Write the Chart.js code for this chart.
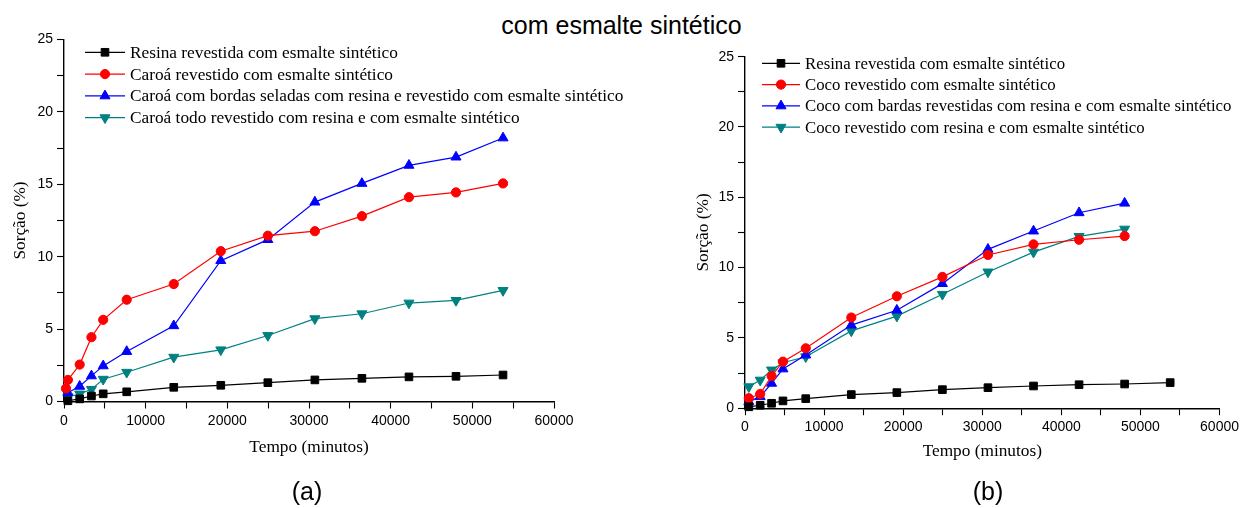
<!DOCTYPE html>
<html>
<head>
<meta charset="utf-8">
<script src="https://cdn.jsdelivr.net/npm/chart.js@4.4.1/dist/chart.umd.min.js"></script>
<style>
  html, body { margin: 0; padding: 0; background: #fff; }
  #page { position: relative; width: 1243px; height: 508px; overflow: hidden; }
  .box { position: absolute; top: 0; height: 508px; }
  #boxA { left: 0; width: 640px; }
  #boxB { left: 620px; width: 623px; }
  .lbl { position: absolute; font-family: 'Liberation Sans', Arial, sans-serif; font-size: 25px;
         line-height: 25px; color: #000; white-space: nowrap; transform: translateX(-50%); }
</style>
</head>
<body>
<div id="page">
  <div class="lbl" style="left:621.5px; top:13px;">com esmalte sintético</div>
  <div class="box" id="boxA"><canvas id="chartA" width="640" height="508"></canvas></div>
  <div class="box" id="boxB"><canvas id="chartB" width="623" height="508"></canvas></div>
  <div class="lbl" style="left:307px; top:479px;">(a)</div>
  <div class="lbl" style="left:988px; top:479px;">(b)</div>
</div>
<script>
// Sampling times (minutes)
const tempos = [480, 1920, 3360, 4800, 7680, 13440, 19200, 24960, 30720, 36480, 42240, 48000, 53760];
const temposCaroaRevestido = [240, 480, 1920, 3360, 4800, 7680, 13440, 19200, 24960, 30720, 36480, 42240, 48000, 53760];
const temposCoco = [480, 1920, 3360, 4800, 7680, 13440, 19200, 24960, 30720, 36480, 42240, 48000];

// Panel (a): sorption (%)
const resinaA = [0.05, 0.18, 0.38, 0.53, 0.67, 0.98, 1.12, 1.30, 1.49, 1.60, 1.70, 1.74, 1.83];
const caroaRevestido = [0.9, 1.49, 2.55, 4.44, 5.64, 7.03, 8.11, 10.38, 11.45, 11.76, 12.8, 14.11, 14.44, 15.06];
const caroaBordas = [0.6, 1.05, 1.77, 2.46, 3.45, 5.23, 9.73, 11.18, 13.77, 15.06, 16.31, 16.88, 18.2];
const caroaTodo = [0.33, 0.52, 0.84, 1.54, 2.02, 3.06, 3.57, 4.56, 5.72, 6.06, 6.8, 6.98, 7.67];

// Panel (b): sorption (%)
const resinaB = [0.1, 0.21, 0.35, 0.52, 0.68, 0.97, 1.11, 1.32, 1.46, 1.58, 1.67, 1.72, 1.82];
const cocoRevestido = [0.71, 1.01, 2.29, 3.31, 4.26, 6.45, 7.96, 9.34, 10.9, 11.65, 11.98, 12.24];
const cocoBordas = [0.47, 0.82, 1.77, 2.79, 3.78, 5.91, 6.97, 8.86, 11.3, 12.6, 13.9, 14.58];
const cocoResina = [1.53, 2.0, 2.72, 3.23, 3.66, 5.5, 6.55, 8.1, 9.69, 11.1, 12.22, 12.74];

// Tick values shown with labels
const xTickLabels = [0, 10000, 20000, 30000, 40000, 50000, 60000];
const yTickLabels = [0, 5, 10, 15, 20, 25];

const legendA = [
  'Resina revestida com esmalte sintético',
  'Caroá revestido com esmalte sintético',
  'Caroá com bordas seladas com resina e revestido com esmalte sintético',
  'Caroá todo revestido com resina e com esmalte sintético'
];
const legendB = [
  'Resina revestida com esmalte sintético',
  'Coco revestido com esmalte sintético',
  'Coco com bardas revestidas com resina e com esmalte sintético',
  'Coco revestido com resina e com esmalte sintético'
];

const SANS = "'Liberation Sans', Arial, sans-serif";
const SERIF = "'Liberation Serif', 'Times New Roman', serif";

const styles = [
  { color: '#000000', pointStyle: 'rect', radius: 5.4, rotation: 0 },
  { color: '#ff0000', pointStyle: 'circle', radius: 4.6, rotation: 0 },
  { color: '#0000ff', pointStyle: 'triangle', radius: 5.8, rotation: 0 },
  { color: '#008080', pointStyle: 'triangle', radius: 5.8, rotation: 180 }
];

function pairs(xs, ys) {
  return ys.map((y, i) => ({ x: xs[i], y: y }));
}

function makeDataset(label, xs, ys, st) {
  return {
    label: label,
    data: pairs(xs, ys),
    showLine: true,
    borderColor: st.color,
    backgroundColor: st.color,
    borderWidth: 1.2,
    pointStyle: st.pointStyle,
    pointRotation: st.rotation,
    pointRadius: st.radius,
    pointBorderWidth: 1,
    pointBorderColor: st.color,
    pointBackgroundColor: st.color,
    clip: false,
    tension: 0
  };
}

// In-plot legend drawn at a fixed location inside the chart area
function legendPlugin(cfg) {
  return {
    id: 'insetLegend',
    afterDraw(chart) {
      const ctx = chart.ctx;
      ctx.save();
      ctx.font = cfg.fontSize + 'px ' + SERIF;
      ctx.textBaseline = 'middle';
      ctx.textAlign = 'left';
      chart.data.datasets.forEach((ds, i) => {
        const st = styles[i];
        const y = cfg.y0 + i * cfg.dy;
        ctx.strokeStyle = st.color;
        ctx.lineWidth = 1.2;
        ctx.beginPath();
        ctx.moveTo(cfg.x1, y);
        ctx.lineTo(cfg.x2, y);
        ctx.stroke();
        ctx.fillStyle = st.color;
        ctx.lineWidth = 1;
        Chart.helpers.drawPoint(ctx, {
          pointStyle: st.pointStyle, radius: st.radius, rotation: st.rotation, borderWidth: 1
        }, (cfg.x1 + cfg.x2) / 2, y);
        ctx.fillStyle = '#000';
        ctx.fillText(ds.label, cfg.tx, y + 1);
      });
      ctx.restore();
    }
  };
}

function axisOptions(kind, fitSize, titleText) {
  const isX = kind === 'x';
  return {
    type: 'linear',
    position: isX ? 'bottom' : 'left',
    min: 0,
    max: isX ? 60000 : 25,
    afterFit(scale) {
      if (isX) scale.height = fitSize; else scale.width = fitSize;
    },
    afterBuildTicks(scale) {
      const step = isX ? 5000 : 2.5;
      const list = [];
      for (let v = scale.min; v <= scale.max + 1e-9; v += step) list.push({ value: v });
      scale.ticks = list;
    },
    ticks: {
      autoSkip: false,
      maxRotation: 0,
      padding: 4,
      color: '#000',
      font: { family: SANS, size: 14 },
      callback(value) {
        const labels = isX ? xTickLabels : yTickLabels;
        return labels.some(v => Math.abs(v - value) < 1e-6) ? String(value) : '';
      }
    },
    grid: {
      display: true,
      drawOnChartArea: false,
      drawTicks: true,
      tickLength: 7,
      tickColor: '#000',
      tickWidth: 1.1
    },
    border: { display: true, color: '#000', width: 1.4 },
    title: {
      display: true,
      text: titleText,
      color: '#000',
      font: { family: SERIF, size: 17.3 },
      padding: { top: 4, bottom: 4 }
    }
  };
}

function buildChart(id, datasets, layoutPad, yWidth, xHeight, legendCfg) {
  return new Chart(document.getElementById(id), {
    type: 'scatter',
    data: { datasets: datasets },
    options: {
      responsive: false,
      animation: false,
      devicePixelRatio: 1,
      layout: { padding: layoutPad },
      plugins: { legend: { display: false }, tooltip: { enabled: false } },
      scales: {
        x: axisOptions('x', xHeight, 'Tempo (minutos)'),
        y: axisOptions('y', yWidth, 'Sorção (%)')
      }
    },
    plugins: [legendPlugin(legendCfg)]
  });
}

buildChart('chartA', [
  makeDataset(legendA[0], tempos, resinaA, styles[0]),
  makeDataset(legendA[1], temposCaroaRevestido, caroaRevestido, styles[1]),
  makeDataset(legendA[2], tempos, caroaBordas, styles[2]),
  makeDataset(legendA[3], tempos, caroaTodo, styles[3])
], { left: 6, right: 86, top: 39.5, bottom: 46.5 }, 58, 60,
  { x1: 85, x2: 125, tx: 130, y0: 52.3, dy: 21.8, fontSize: 17.3 });

buildChart('chartB', [
  makeDataset(legendB[0], tempos, resinaB, styles[0]),
  makeDataset(legendB[1], temposCoco, cocoRevestido, styles[1]),
  makeDataset(legendB[2], temposCoco, cocoBordas, styles[2]),
  makeDataset(legendB[3], temposCoco, cocoResina, styles[3])
], { left: 69, right: 21, top: 56.7, bottom: 41.8 }, 56, 58,
  { x1: 142, x2: 180, tx: 185, y0: 63.3, dy: 21.3, fontSize: 16.8 });
</script>
</body>
</html>
